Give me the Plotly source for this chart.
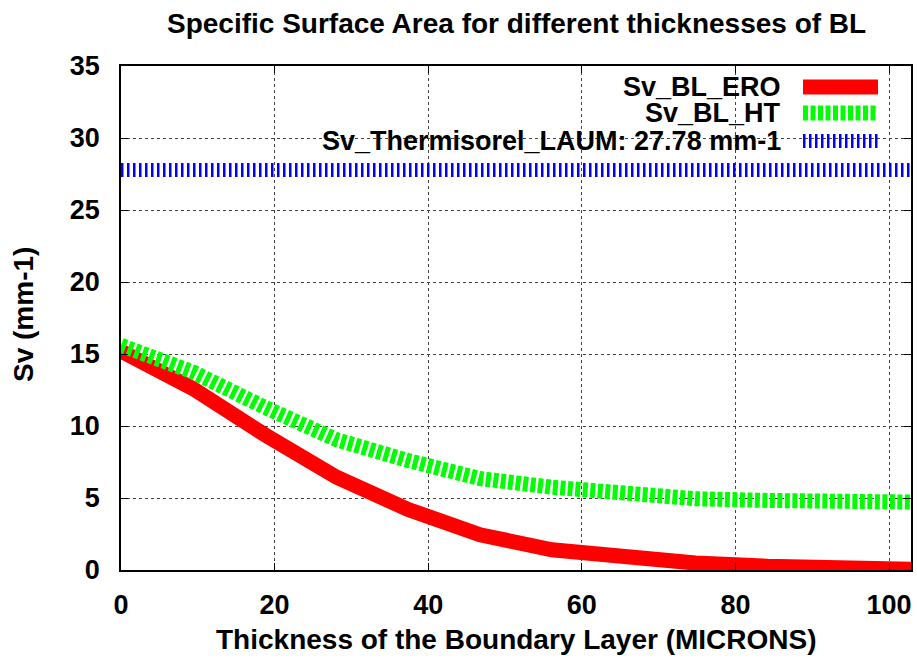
import plotly.graph_objects as go

# Data
thickness = [0, 9.35, 18.7, 28.05, 37.4, 46.75, 56.1, 65.45, 74.8, 84.15, 93.5, 102.85]
sv_bl_ero = [15.2, 12.6, 9.4, 6.45, 4.2, 2.45, 1.4, 0.85, 0.48, 0.26, 0.14, 0.06]
sv_bl_ht = [15.6, 13.75, 11.3, 9.05, 7.6, 6.35, 5.75, 5.3, 4.95, 4.83, 4.76, 4.72]
sv_thermisorel = 27.78

x_ticks = [0, 20, 40, 60, 80, 100]
y_ticks = [0, 5, 10, 15, 20, 25, 30, 35]

names = ["Sv_BL_ERO", "Sv_BL_HT", "Sv_Thermisorel_LAUM: 27.78 mm-1"]
colors = ["#ff0000", "#00ff00", "#0000ff"]
widths = [15, 15, 14]
dashes = ["solid", "5px,2.5px", "2.5px,3.5px"]

FONT = "Liberation Sans, Arial, sans-serif"
FS = 27
FT = 28

fig = go.Figure()
series = [sv_bl_ero, sv_bl_ht, [sv_thermisorel] * len(thickness)]
for name, ys, c, w, d in zip(names, series, colors, widths, dashes):
    fig.add_trace(go.Scatter(x=thickness, y=ys, mode="lines", name=name,
                             line=dict(color=c, width=w, dash=d),
                             showlegend=False))

W, H = 917, 658
# plot area in screen pixels: x 121..911, y 66..570
SX0, SX1, SY0, SY1 = 121, 911, 66, 570
L, R, T, B = SX0, W - SX1, SY0, H - SY1
pw, ph = SX1 - SX0, SY1 - SY0


def px(xs):
    return (xs - SX0) / pw


def py(ys):
    return (SY1 - ys) / ph


# opaque key box
fig.add_shape(type="rect", xref="paper", yref="paper",
              x0=px(300), x1=px(890), y0=py(156), y1=1.0,
              fillcolor="white", line=dict(width=0), layer="between")

row_y = [87, 113, 141]
for name, c, w, d, ry in zip(names, colors, widths, dashes, row_y):
    fig.add_annotation(xref="paper", yref="paper", x=px(783), y=py(ry),
                       text="<b>%s</b>" % name, showarrow=False,
                       xanchor="right", yanchor="middle",
                       font=dict(family=FONT, size=FS, color="black"))
    fig.add_shape(type="line", xref="paper", yref="paper",
                  x0=px(803), x1=px(878), y0=py(ry), y1=py(ry),
                  line=dict(color=c, width=w, dash=d))

fig.add_annotation(xref="paper", yref="paper", x=0.5, y=py(23),
                   text="<b>Specific Surface Area for different thicknesses of BL</b>",
                   showarrow=False, xanchor="center", yanchor="middle",
                   font=dict(family=FONT, size=FT, color="black"))
fig.add_annotation(xref="paper", yref="paper", x=0.5, y=py(639),
                   text="<b>Thickness of the Boundary Layer (MICRONS)</b>",
                   showarrow=False, xanchor="center", yanchor="middle",
                   font=dict(family=FONT, size=FT, color="black"))
fig.add_annotation(xref="paper", yref="paper", x=px(23), y=py(315),
                   text="<b>Sv (mm-1)</b>", textangle=-90,
                   showarrow=False, xanchor="center", yanchor="middle",
                   font=dict(family=FONT, size=FT, color="black"))

axis_common = dict(showline=True, linecolor="black", linewidth=1.5, mirror="allticks",
                   ticks="inside", ticklen=7, tickwidth=1.2, tickcolor="black",
                   showgrid=True, gridcolor="#444444", griddash="dot", gridwidth=1,
                   zeroline=False,
                   tickfont=dict(family=FONT, size=FS, color="black"))

fig.update_xaxes(range=[0, 102.85], tickvals=x_ticks,
                 ticktext=["<b>%d</b>" % v for v in x_ticks],
                 ticklabelstandoff=10, **axis_common)
fig.update_yaxes(range=[0, 35], tickvals=y_ticks,
                 ticktext=["<b>%d</b>" % v for v in y_ticks],
                 ticklabelstandoff=14, **axis_common)

fig.update_layout(width=W, height=H, margin=dict(l=L, r=R, t=T, b=B, autoexpand=False),
                  paper_bgcolor="white", plot_bgcolor="white")

fig.write_html("out.html",
               config={"displayModeBar": False},
               post_script="document.body.style.margin='0';"
                           "document.body.style.overflow='hidden';")
